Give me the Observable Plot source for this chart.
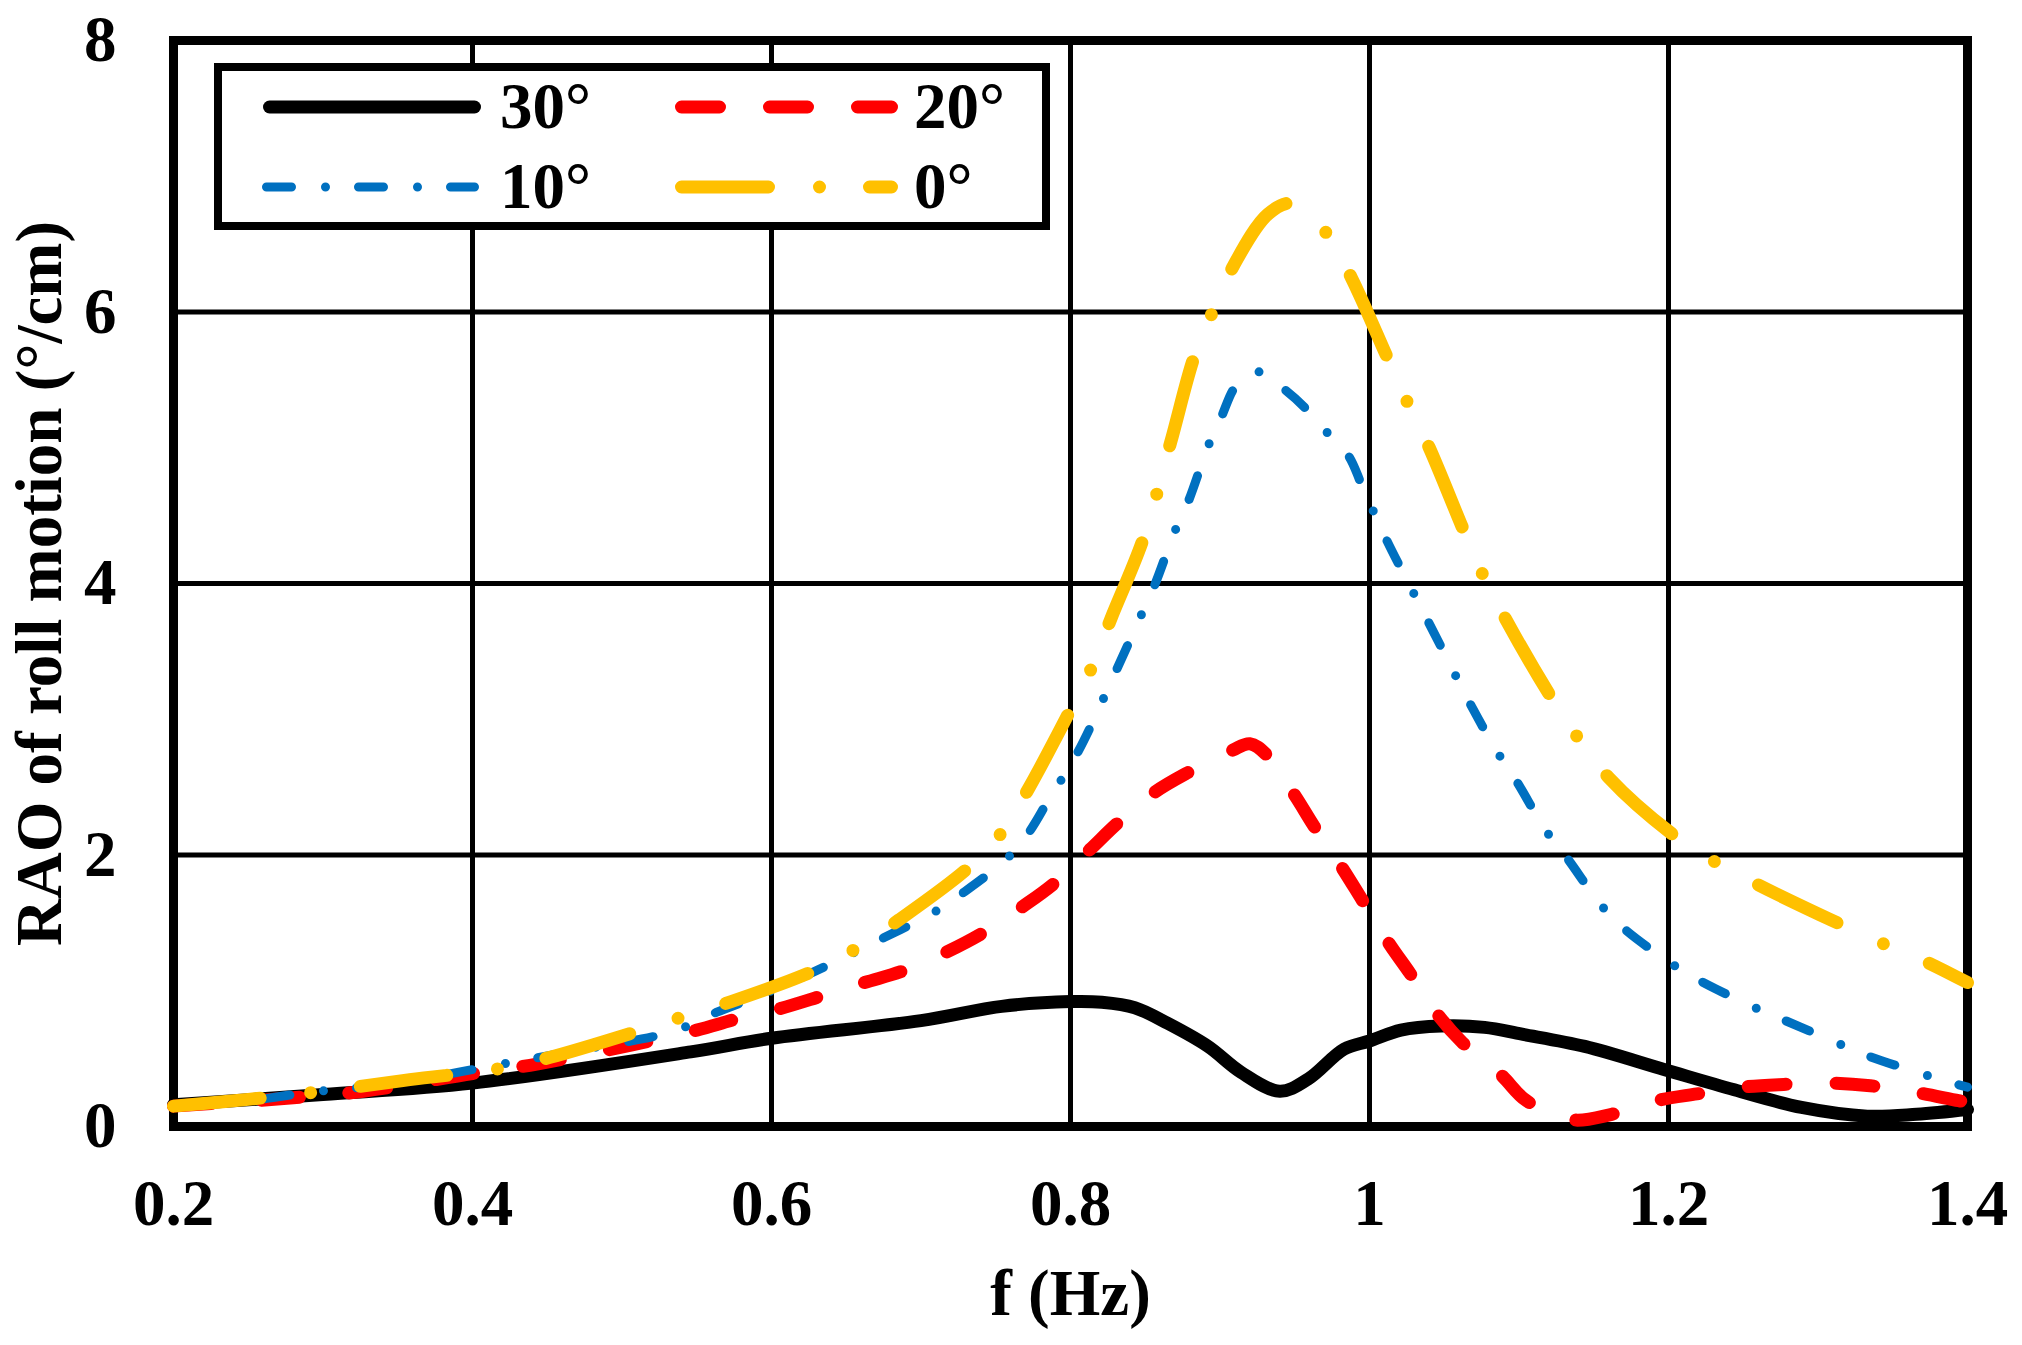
<!DOCTYPE html>
<html><head><meta charset="utf-8">
<script src="https://cdn.jsdelivr.net/npm/d3@7"></script>
<script src="https://cdn.jsdelivr.net/npm/@observablehq/plot@0.6"></script>
<style>
body{margin:0;background:#fff}
#wrap{position:relative;width:2022px;height:1345px}
#legend{position:absolute;left:0;top:0;pointer-events:none}
</style>
</head><body><div id="wrap"></div><script>
// ---- data ----
const seriesNames = ["30°", "20°", "10°", "0°"];
const seriesColors = ["#000000", "#FF0000", "#0070C0", "#FFC000"];

const f30 = [0.2, 0.3, 0.4, 0.546, 0.6, 0.7, 0.754, 0.8, 0.821, 0.843, 0.865, 0.892, 0.914, 0.94, 0.959, 0.983, 1.0, 1.021, 1.048, 1.077, 1.102, 1.144, 1.197, 1.244, 1.289, 1.333, 1.366, 1.4];
const v30 = [0.16, 0.235, 0.32, 0.55, 0.65, 0.78, 0.885, 0.92, 0.915, 0.875, 0.76, 0.59, 0.40, 0.26, 0.35, 0.57, 0.63, 0.71, 0.74, 0.73, 0.68, 0.59, 0.42, 0.27, 0.14, 0.076, 0.09, 0.125];

const f20 = [0.2, 0.278, 0.327, 0.4, 0.443, 0.506, 0.55, 0.576, 0.606, 0.633, 0.662, 0.689, 0.718, 0.742, 0.768, 0.789, 0.813, 0.832, 0.856, 0.879, 0.908, 0.92, 0.931, 0.95, 0.963, 0.982, 0.995, 1.013, 1.027, 1.046, 1.062, 1.088, 1.105, 1.135, 1.162, 1.192, 1.219, 1.249, 1.277, 1.307, 1.335, 1.366, 1.394, 1.4];
const v20 = [0.15, 0.21, 0.26, 0.39, 0.46, 0.60, 0.71, 0.79, 0.87, 0.96, 1.06, 1.15, 1.29, 1.43, 1.62, 1.79, 2.04, 2.24, 2.46, 2.61, 2.77, 2.82, 2.74, 2.44, 2.21, 1.90, 1.67, 1.35, 1.13, 0.82, 0.62, 0.38, 0.19, 0.05, 0.09, 0.19, 0.24, 0.29, 0.31, 0.32, 0.30, 0.25, 0.19, 0.18];

const f10 = [0.2, 0.25, 0.29, 0.35, 0.41, 0.47, 0.534, 0.563, 0.6, 0.64, 0.675, 0.709, 0.728, 0.759, 0.773, 0.785, 0.805, 0.831, 0.847, 0.856, 0.87, 0.879, 0.892, 0.901, 0.911, 0.925, 0.943, 0.96, 0.971, 0.986, 0.995, 1.011, 1.029, 1.049, 1.067, 1.086, 1.098, 1.118, 1.132, 1.155, 1.17, 1.202, 1.22, 1.256, 1.276, 1.312, 1.331, 1.369, 1.39, 1.4];
const v10 = [0.15, 0.19, 0.25, 0.32, 0.44, 0.56, 0.70, 0.84, 1.0, 1.2, 1.39, 1.58, 1.72, 1.99, 2.18, 2.40, 2.76, 3.37, 3.76, 3.98, 4.39, 4.61, 5.01, 5.23, 5.46, 5.56, 5.43, 5.26, 5.12, 4.94, 4.72, 4.33, 3.94, 3.51, 3.12, 2.75, 2.55, 2.18, 1.98, 1.63, 1.46, 1.20, 1.08, 0.885, 0.79, 0.62, 0.53, 0.39, 0.32, 0.29];

const f0 = [0.2, 0.25, 0.3, 0.358, 0.42, 0.452, 0.51, 0.541, 0.573, 0.629, 0.658, 0.685, 0.732, 0.755, 0.772, 0.8, 0.815, 0.827, 0.849, 0.867, 0.883, 0.895, 0.909, 0.932, 0.948, 0.972, 0.988, 1.0125, 1.026, 1.04, 1.063, 1.076, 1.091, 1.121, 1.139, 1.16, 1.203, 1.231, 1.26, 1.313, 1.343, 1.373, 1.4];
const v0 = [0.15, 0.2, 0.26, 0.345, 0.43, 0.51, 0.70, 0.81, 0.92, 1.15, 1.32, 1.52, 1.91, 2.18, 2.49, 3.07, 3.40, 3.74, 4.34, 5.04, 5.68, 6.0, 6.34, 6.72, 6.80, 6.57, 6.25, 5.65, 5.32, 5.0, 4.39, 4.06, 3.74, 3.17, 2.87, 2.57, 2.15, 1.95, 1.78, 1.50, 1.35, 1.21, 1.06];

const xTicks = [0.2, 0.4, 0.6, 0.8, 1.0, 1.2, 1.4];
const xTickLabels = ["0.2", "0.4", "0.6", "0.8", "1", "1.2", "1.4"];
const yTicks = [0, 2, 4, 6, 8];
const yTickLabels = ["0", "2", "4", "6", "8"];
const xLabel = "f (Hz)";
const yLabel = "RAO of roll motion (°/cm)";

// ---- styles ----
const seriesF = [f30, f20, f10, f0];
const seriesV = [v30, v20, v10, v0];
const widths = [13, 13, 9, 13];
const dashes = [null, "38,50", "25,34,0,33", "87,51,0,50"];
const FONT = "'Liberation Serif', 'Times New Roman', serif";

const lineMarks = seriesNames.map((name, i) => {
  const rows = seriesF[i].map((f, j) => ({f, v: seriesV[i][j], s: name}));
  return Plot.line(rows, {
    x: "f", y: "v",
    stroke: seriesColors[i], strokeWidth: widths[i],
    strokeDasharray: dashes[i] || undefined,
    strokeLinecap: "round", strokeLinejoin: "round",
    curve: "catmull-rom"
  });
});

const chart = Plot.plot({
  width: 2022, height: 1345,
  marginLeft: 173, marginRight: 55, marginTop: 40, marginBottom: 219,
  style: {fontFamily: FONT, fontSize: "64px", fontWeight: "bold", color: "black", background: "white"},
  x: {domain: [0.2, 1.4]},
  y: {domain: [0, 8]},
  marks: [
    Plot.gridX(xTicks, {stroke: "black", strokeOpacity: 1, strokeWidth: 5}),
    Plot.gridY(yTicks, {stroke: "black", strokeOpacity: 1, strokeWidth: 5}),
    Plot.frame({stroke: "black", strokeWidth: 9}),
    ...lineMarks,
    Plot.axisX(xTicks, {tickSize: 0, tickPadding: 52, label: null, fontSize: 65,
      tickFormat: (d) => xTickLabels[xTicks.indexOf(d)]}),
    Plot.axisY(yTicks, {tickSize: 0, tickPadding: 57, label: null, fontSize: 65,
      tickFormat: (d) => yTickLabels[yTicks.indexOf(d)]}),
    Plot.text([xLabel], {text: d => d, frameAnchor: "bottom", dy: 188, fontSize: 65, fontWeight: "bold"}),
    Plot.text([yLabel], {text: d => d, frameAnchor: "left", textAnchor: "middle", dx: -133, rotate: -90, fontSize: 65, fontWeight: "bold"})
  ]
});
document.getElementById("wrap").appendChild(chart);

// ---- legend overlay (inside the plot area, top-left) ----
const lg = d3.select("#wrap").append("svg").attr("id", "legend")
  .attr("width", 2022).attr("height", 1345);
lg.append("rect").attr("x", 218).attr("y", 67).attr("width", 828).attr("height", 159)
  .attr("fill", "white").attr("stroke", "black").attr("stroke-width", 8);
const legPos = [[269.5, 474.5, 107, 500], [681.5, 891.5, 107, 914], [266.5, 474.5, 187, 500], [681.5, 891.5, 187, 914]];
seriesNames.forEach((name, i) => {
  const [x1, x2, y, tx] = legPos[i];
  const ln = lg.append("line").attr("x1", x1).attr("x2", x2).attr("y1", y).attr("y2", y)
    .attr("stroke", seriesColors[i]).attr("stroke-width", widths[i]).attr("stroke-linecap", "round");
  if (dashes[i]) ln.attr("stroke-dasharray", dashes[i]);
  lg.append("text").attr("x", tx).attr("y", y + 21).text(name)
    .attr("font-family", FONT).attr("font-size", 65).attr("font-weight", "bold").attr("fill", "black");
});
</script></body></html>
